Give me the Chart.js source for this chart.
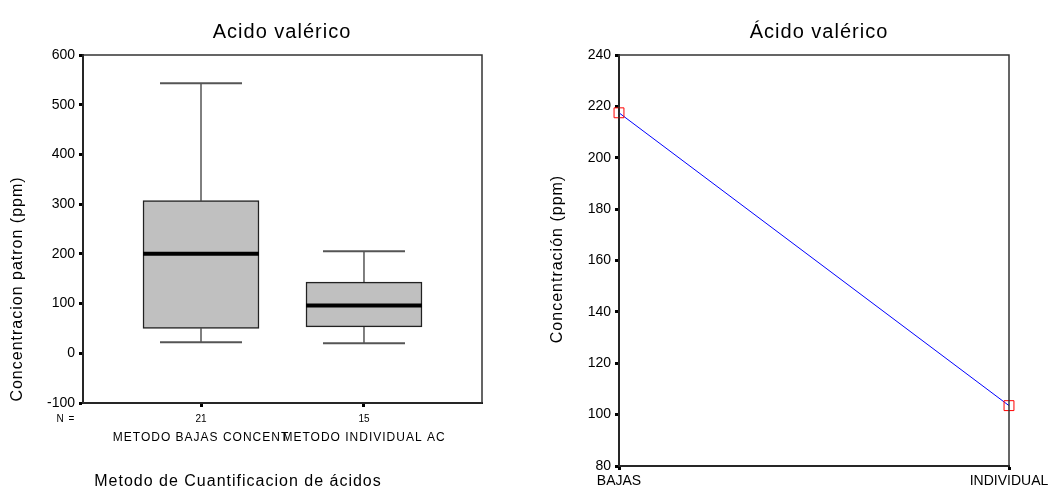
<!DOCTYPE html>
<html lang="es">
<head>
<meta charset="utf-8">
<title>Acido valérico</title>
<script src="https://cdn.jsdelivr.net/npm/chart.js@4.4.1/dist/chart.umd.min.js"></script>
<style>
  html, body { margin: 0; padding: 0; background: #fff; }
  #contenedor { position: relative; width: 1054px; height: 489px; }
  canvas { position: absolute; top: 0; }
  #graficoCajas { left: 0; }
  #graficoMedias { left: 527px; }
</style>
</head>
<body>
<div id="contenedor">
  <canvas id="graficoCajas" width="527" height="489"></canvas>
  <canvas id="graficoMedias" width="527" height="489"></canvas>
</div>
<script>
// Datos del diagrama de cajas (izquierda)
const categorias = ['METODO BAJAS CONCENT', 'METODO INDIVIDUAL AC'];
const nCasos = [21, 15];
const minimos = [22, 20];
const cuartil1 = [50, 53];
const medianas = [200, 96];
const cuartil3 = [307, 143];
const maximos = [543, 205];

// Datos del grafico de medias (derecha)
const metodos = ['BAJAS', 'INDIVIDUAL'];
const medias = [217.5, 103.5];

const FUENTE = "'Liberation Sans', Arial, sans-serif";
Chart.defaults.font.family = FUENTE;
Chart.defaults.color = '#000';

// Escribe un texto centrado (opcionalmente girado)
function escribir(ctx, t, x, y, size, rot) {
    ctx.save();
    ctx.font = size + 'px ' + FUENTE;
    ctx.fillStyle = '#000';
    ctx.textAlign = 'center';
    ctx.textBaseline = 'middle';
    ctx.letterSpacing = '1px';
    ctx.translate(x, y);
    if (rot) ctx.rotate(rot);
    ctx.fillText(t, 0, 0);
    ctx.restore();
}

// Marco alrededor del area del grafico
const marco = {
    id: 'marco',
    afterDraw(chart) {
        const { ctx, chartArea: a } = chart;
        ctx.save();
        ctx.strokeStyle = '#333';
        ctx.lineWidth = 1.5;
        ctx.strokeRect(a.left, a.top, a.right - a.left, a.bottom - a.top);
        ctx.restore();
    }
};

// Bigotes, extremos y mediana de cada caja
const bigotes = {
    id: 'bigotes',
    afterDatasetsDraw(chart) {
        const { ctx, scales: { x, y } } = chart;
        ctx.save();
        nCasos.forEach((n, i) => {
            const cx = x.getPixelForValue(i);
            ctx.strokeStyle = '#000';
            ctx.lineWidth = 1;
            ctx.beginPath();
            ctx.moveTo(cx, y.getPixelForValue(cuartil3[i]));
            ctx.lineTo(cx, y.getPixelForValue(maximos[i]));
            ctx.moveTo(cx, y.getPixelForValue(cuartil1[i]));
            ctx.lineTo(cx, y.getPixelForValue(minimos[i]));
            ctx.stroke();

            ctx.strokeStyle = '#555';
            ctx.lineWidth = 2;
            ctx.beginPath();
            ctx.moveTo(cx - 41, y.getPixelForValue(maximos[i]));
            ctx.lineTo(cx + 41, y.getPixelForValue(maximos[i]));
            ctx.moveTo(cx - 41, y.getPixelForValue(minimos[i]));
            ctx.lineTo(cx + 41, y.getPixelForValue(minimos[i]));
            ctx.stroke();

            ctx.strokeStyle = '#000';
            ctx.lineWidth = 4;
            ctx.beginPath();
            ctx.moveTo(cx - 58, y.getPixelForValue(medianas[i]));
            ctx.lineTo(cx + 58, y.getPixelForValue(medianas[i]));
            ctx.stroke();
        });
        ctx.restore();
    }
};

// Textos del grafico de cajas
const textosCajas = {
    id: 'textosCajas',
    afterDraw(chart) {
        const { ctx, scales: { x } } = chart;
        escribir(ctx, 'Acido valérico', 282, 32, 20);
        escribir(ctx, 'Concentracion patron (ppm)', 18, 289, 16, -Math.PI / 2);
        escribir(ctx, 'N =', 66, 419, 10);
        categorias.forEach((c, i) => escribir(ctx, c, x.getPixelForValue(i), 438, 12));
        escribir(ctx, 'Metodo de Cuantificacion de ácidos', 238, 482, 16);
    }
};

// Textos del grafico de medias
const textosMedias = {
    id: 'textosMedias',
    afterDraw(chart) {
        escribir(chart.ctx, 'Ácido valérico', 292, 32, 20);
        escribir(chart.ctx, 'Concentración (ppm)', 31, 259, 16, -Math.PI / 2);
    }
};

const rejilla = { drawOnChartArea: false, offset: false, tickLength: 4, tickWidth: 3, tickColor: '#000' };
const borde = { color: '#000', width: 2 };

// Diagrama de cajas
new Chart(document.getElementById('graficoCajas'), {
    type: 'bar',
    data: {
        datasets: [{
            data: nCasos.map((n, i) => ({ x: i, y: [cuartil1[i], cuartil3[i]] })),
            backgroundColor: '#c0c0c0',
            borderColor: '#222',
            borderWidth: 1.5,
            borderSkipped: false,
            barThickness: 116
        }]
    },
    options: {
        responsive: false,
        animation: false,
        devicePixelRatio: 1,
        layout: { padding: { left: 0, top: 55, right: 45, bottom: 0 } },
        plugins: { legend: { display: false }, tooltip: { enabled: false } },
        scales: {
            x: {
                type: 'linear',
                offset: false,
                min: -0.724,
                max: 1.724,
                afterFit(s) { s.height = 86; },
                afterBuildTicks(s) { s.ticks = nCasos.map((n, i) => ({ value: i })); },
                ticks: { autoSkip: false, maxRotation: 0, padding: 6, font: { size: 10 }, callback: (v, i) => nCasos[i] },
                grid: rejilla,
                border: borde
            },
            y: {
                min: -100,
                max: 600,
                afterFit(s) { s.width = 83; },
                ticks: { stepSize: 100, padding: 4, font: { size: 14 } },
                grid: rejilla,
                border: borde
            }
        }
    },
    plugins: [bigotes, marco, textosCajas]
});

// Grafico de medias
new Chart(document.getElementById('graficoMedias'), {
    type: 'line',
    data: {
        labels: metodos,
        datasets: [{
            data: medias,
            borderColor: '#0000ff',
            borderWidth: 1,
            pointStyle: 'rect',
            pointRadius: 7,
            pointBorderColor: '#ff0000',
            pointBackgroundColor: 'rgba(0,0,0,0)',
            pointBorderWidth: 1,
            tension: 0,
            clip: false
        }]
    },
    options: {
        responsive: false,
        animation: false,
        devicePixelRatio: 1,
        layout: { padding: { left: 0, top: 55, right: 45, bottom: 0 } },
        plugins: { legend: { display: false }, tooltip: { enabled: false } },
        scales: {
            x: {
                offset: false,
                afterFit(s) { s.height = 23; },
                ticks: { autoSkip: false, maxRotation: 0, padding: 3, font: { size: 14 } },
                grid: rejilla,
                border: borde
            },
            y: {
                min: 80,
                max: 240,
                afterFit(s) { s.width = 92; },
                ticks: { stepSize: 20, padding: 4, font: { size: 14 } },
                grid: rejilla,
                border: borde
            }
        }
    },
    plugins: [marco, textosMedias]
});
</script>
</body>
</html>
